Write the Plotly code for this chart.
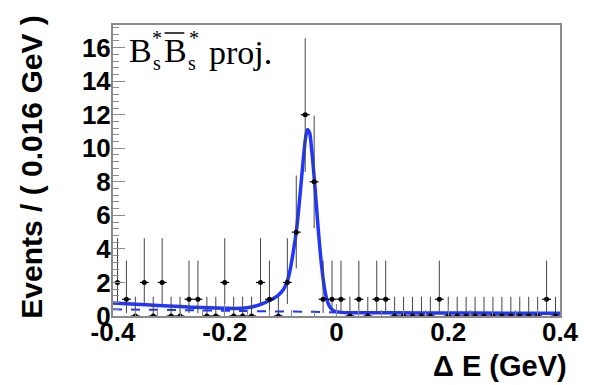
import numpy as np
import plotly.graph_objects as go

# Histogram: 50 bins of 0.016 GeV over [-0.4, 0.4]
x_lo, x_hi, n_bins = -0.4, 0.4, 50
bin_width = (x_hi - x_lo) / n_bins
bin_centers = x_lo + bin_width * (np.arange(n_bins) + 0.5)

counts = [2, 1, 0, 2, 0, 2, 0, 0, 1, 1,
          0, 0, 2, 0, 0, 0, 2, 1, 0, 2,
          5, 12, 8, 1, 1, 1, 0, 1, 0, 1,
          1, 0, 0, 0, 0, 0, 1, 0, 0, 0,
          0, 0, 0, 0, 0, 0, 0, 0, 1, 0]

# 68% Poisson interval half-widths (lower, upper) per observed count
poisson_lo = {0: 0.0, 1: 0.827, 2: 1.292, 5: 2.16, 8: 2.76, 12: 3.41}
poisson_hi = {0: 1.148, 1: 2.300, 2: 2.638, 5: 3.38, 8: 3.94, 12: 4.56}
err_lo = [poisson_lo[c] for c in counts]
err_hi = [poisson_hi[c] for c in counts]

# Total fit projection (solid) sampled along Delta E
fit_x = [-0.400, -0.360, -0.320, -0.280, -0.240, -0.200, -0.170, -0.150,
         -0.135, -0.120, -0.105, -0.095, -0.086, -0.077, -0.071, -0.065,
         -0.059, -0.055, -0.052, -0.048, -0.045, -0.039, -0.033, -0.027,
         -0.021, -0.015, -0.010, -0.004, 0.005, 0.020, 0.100, 0.200,
         0.300, 0.400]
fit_y = [0.78, 0.70, 0.63, 0.56, 0.50, 0.46, 0.46, 0.55,
         0.70, 0.92, 1.22, 1.58, 2.30, 3.90, 5.30, 7.30,
         9.50, 10.70, 11.10, 10.90, 10.10, 7.90, 5.30, 3.10,
         1.55, 0.75, 0.45, 0.30, 0.23, 0.20, 0.19, 0.18,
         0.17, 0.16]

# Background component (dashed)
bkg_x = [-0.400, -0.200, -0.050, 0.020, 0.400]
bkg_y = [0.40, 0.33, 0.25, 0.20, 0.16]

y_ticks = [0, 2, 4, 6, 8, 10, 12, 14, 16]
x_ticks = [-0.4, -0.2, 0.0, 0.2, 0.4]
x_tick_text = ["-0.4", "-0.2", "0", "0.2", "0.4"]

BLUE = "#2036ff"
FRAME = "#8a8a8a"
SANS = "Liberation Sans, Arial, sans-serif"
SERIF = "Liberation Serif, Times New Roman, serif"

fig = go.Figure()

fig.add_trace(go.Scatter(
    x=bkg_x, y=bkg_y, mode="lines",
    line=dict(color=BLUE, width=2, dash="dash"),
    hoverinfo="skip", showlegend=False))

fig.add_trace(go.Scatter(
    x=fit_x, y=fit_y, mode="lines",
    line=dict(color=BLUE, width=3.5, shape="spline", smoothing=0.8),
    hoverinfo="skip", showlegend=False))

fig.add_trace(go.Scatter(
    x=bin_centers, y=counts, mode="markers",
    marker=dict(color="black", size=5),
    error_x=dict(type="constant", value=bin_width / 2, width=0,
                 thickness=1.2, color="black"),
    error_y=dict(type="data", symmetric=False, array=err_hi,
                 arrayminus=err_lo, width=0, thickness=1, color="#444444"),
    showlegend=False))

axis_common = dict(
    showline=True, linecolor=FRAME, linewidth=2, mirror=True,
    ticks="inside", tickcolor=FRAME, tickwidth=1, showgrid=False,
    zeroline=False,
    tickfont=dict(family=SANS, size=26, color="black", weight="bold"),
)

fig.update_xaxes(
    range=[x_lo, x_hi], tickvals=x_ticks, ticktext=x_tick_text,
    ticklen=12, minor=dict(dtick=0.04, ticklen=6, ticks="inside",
                           tickcolor=FRAME),
    ticklabelstandoff=-8, **axis_common)
fig.update_yaxes(
    range=[0, 17.35], tickvals=y_ticks, ticklen=12,
    minor=dict(dtick=0.4, ticklen=6, ticks="inside", tickcolor=FRAME),
    ticklabelstandoff=-5, **axis_common)

ytitle_font = dict(family=SANS, size=30, color="black", weight="bold")
xtitle_font = dict(family=SANS, size=29, color="black", weight="bold")
serif_big = dict(family=SERIF, size=34, color="black")
serif_small = dict(family=SERIF, size=20, color="black")

W, H, L, T = 451.0, 291.0, 113.0, 25.0


def px(xp):
    return (xp - L) / W


def py(yp):
    return (T + H - yp) / H


annotations = [
    dict(text="Events / ( 0.016 GeV )", textangle=-90, font=ytitle_font,
         x=px(30), y=py(167), xanchor="center", yanchor="middle"),
    dict(text="\u0394 E (GeV)", font=xtitle_font,
         x=px(573), y=py(366), xanchor="right", yanchor="middle"),
    dict(text="B", font=serif_big, x=px(127), y=py(50),
         xanchor="left", yanchor="middle"),
    dict(text="*", font=serif_small, x=px(150), y=py(38),
         xanchor="left", yanchor="middle"),
    dict(text="s", font=serif_small, x=px(151), y=py(63),
         xanchor="left", yanchor="middle"),
    dict(text="B", font=serif_big, x=px(162), y=py(50),
         xanchor="left", yanchor="middle"),
    dict(text="*", font=serif_small, x=px(188), y=py(38),
         xanchor="left", yanchor="middle"),
    dict(text="s", font=serif_small, x=px(187), y=py(63),
         xanchor="left", yanchor="middle"),
    dict(text="proj.", font=serif_big, x=px(208), y=py(52),
         xanchor="left", yanchor="middle"),
]
for a in annotations:
    a.update(xref="paper", yref="paper", showarrow=False)

# bar over the anti-particle symbol
shapes = [dict(type="line", xref="paper", yref="paper",
               x0=px(165), x1=px(185), y0=py(33), y1=py(33),
               line=dict(color="black", width=1.5))]

fig.update_layout(
    width=591, height=385,
    margin=dict(l=113, r=27, t=25, b=69),
    paper_bgcolor="white", plot_bgcolor="white",
    annotations=annotations, shapes=shapes,
)

fig.write_html("out.html")
